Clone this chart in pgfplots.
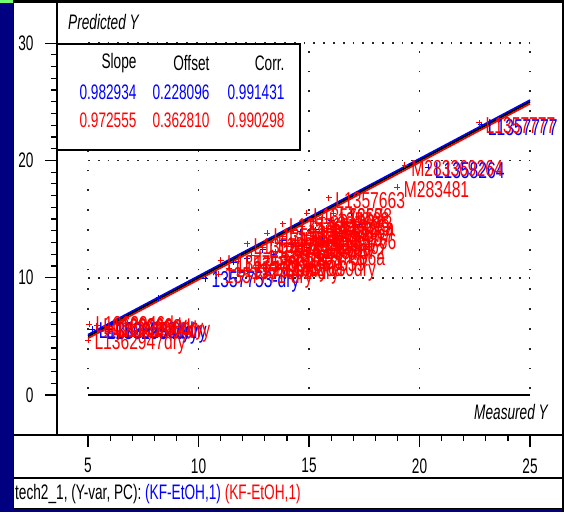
\documentclass[border=0pt]{standalone}
\usepackage{pgfplots}
\usepackage{pgfplotstable}
\pgfplotsset{compat=1.18}
\usepackage{fontspec}
\setmainfont{Liberation Sans}[FakeStretch=0.65]
\newfontfamily\lf{Liberation Sans}[FakeStretch=0.68]
\definecolor{navy}{RGB}{0,0,128}
\definecolor{pblue}{RGB}{0,0,255}
\definecolor{pred}{RGB}{255,0,0}
\newcommand\tf{\fontsize{21}{23}\selectfont}
\newcommand\samplefont{\lf\fontsize{23}{25}\selectfont}

% validation samples (red), with sample names
\pgfplotstableread{
x y label
5.00 4.65 L1362947dry
5.05 6.05 L1362946dry
5.40 5.90 L1362966dry
5.80 5.80 L1362988dry
6.10 5.70 L1362964dry
10.9 10.3 1357771-dry
11.0 11.5 L1357588
11.4 10.8 L1357590dry
11.8 11.4 L1357592
12.1 10.6 1357602-dry
12.2 12.9 L1357611
12.4 11.9 L1357615
12.7 11.0 L1357620a
12.9 12.6 L1357627
13.1 13.8 L1357630
13.1 11.6 L1357633
13.3 13.0 L1357641
13.5 12.2 1357648-dry
13.6 10.9 L1357650dry
13.8 14.6 L1357651
13.8 13.5 L1357652
14.0 12.7 L1357655a
14.1 11.5 L1357659
14.3 14.0 L1357661
14.4 13.2 L1357664
14.6 12.0 L1357666a
14.7 14.4 L1357668
14.9 15.5 L1357669
14.9 13.6 L1357670
15.0 12.5 L1357672
15.2 14.8 L1357675
15.3 13.9 L1357677
15.5 12.9 L135767
15.6 15.1 L135768
15.8 14.2 L135764
15.9 16.8 L1357663
15.9 13.3 L135766
16.1 15.5 L13578
16.2 14.5 L1356a
19.00 17.73 M283481
19.34 19.60 M283369264
22.70 23.20 L1357777
}\redpts

% calibration samples (blue), with sample names
\pgfplotstableread{
x y label
5.20 5.60 L1362955dry
5.55 5.50 L1362934dry
5.95 5.55 L1362981dry
10.30 9.90 1357753-dry
20.40 19.40 L1358264
22.80 23.05 L1357777
}\bluepts

% calibration samples (blue), names hidden under the red cluster
\pgfplotstableread{
x y
12.2 11.6
12.9 12.4
13.4 12.0
13.8 13.2
14.2 12.8
14.6 13.9
14.9 12.6
15.3 14.1
15.6 13.3
16.0 14.9
16.4 13.8
16.9 15.5
17.3 14.5
11.6 11.3
8.2 8.3
}\bluecl

\begin{document}
\begin{tikzpicture}[x=1pt,y=1pt]
\useasboundingbox (0,0) rectangle (564,512);
\fill[navy] (0,0) rectangle (564,512);
\fill[green!55] (0,509) rectangle (13,512);
\fill[white] (13,3) rectangle (562,509);
\begin{axis}[
  at={(57pt,77pt)}, anchor=south west,
  scale only axis, width=504pt, height=432pt,
  xmin=3.597, xmax=26.40, ymin=-3.41, ymax=33.42,
  axis x line*=bottom, axis y line*=left,
  axis line style={-, line width=1.3pt, black},
  xtick={5,10,15,20,25}, minor x tick num=4,
  ytick={0,10,20,30}, minor y tick num=9,
  tick align=outside,
  major tick length=12pt, minor tick length=6pt,
  tick style={black, line width=1.2pt},
  /pgf/number format/assume math mode=true,
  ticklabel style={font=\tf},
  xticklabel style={yshift=-8pt},
  yticklabel style={xshift=-8pt},
  clip=false,
]
% grid
\draw[black!85, line width=1.8pt, dash pattern=on 1.8pt off 8pt] (axis cs:5,10) -- (axis cs:25,10);
\draw[black!85, line width=1.8pt, dash pattern=on 1.8pt off 8pt] (axis cs:5,20) -- (axis cs:25,20);
\draw[black!85, line width=1.8pt, dash pattern=on 1.8pt off 8pt] (axis cs:5,30) -- (axis cs:25,30);
\draw[black!85, line width=1.8pt, dash pattern=on 1.8pt off 18pt] (axis cs:5,0.5) -- (axis cs:5,30);
\draw[black!85, line width=1.8pt, dash pattern=on 1.8pt off 18pt] (axis cs:10,0.5) -- (axis cs:10,30);
\draw[black!85, line width=1.8pt, dash pattern=on 1.8pt off 18pt] (axis cs:15,0.5) -- (axis cs:15,30);
\draw[black!85, line width=1.8pt, dash pattern=on 1.8pt off 18pt] (axis cs:20,0.5) -- (axis cs:20,30);
\draw[black!85, line width=1.8pt, dash pattern=on 1.8pt off 18pt] (axis cs:25,0.5) -- (axis cs:25,30);
% zero line
\addplot[black, line width=1.8pt] coordinates {(5,0)(25,0)};
% calibration samples
\addplot[only marks, mark=+, mark size=3pt, pblue, line width=1pt,
  nodes near coords, point meta=explicit symbolic,
  every node near coord/.append style={anchor=west, font=\samplefont, text=pblue, inner sep=0pt, xshift=6pt, yshift=-3pt}]
  table[x=x, y=y, meta=label] {\bluepts};
\addplot[only marks, mark=+, mark size=3pt, pblue, line width=1pt] table[x=x, y=y] {\bluecl};
% validation samples
\addplot[only marks, mark=+, mark size=3pt, pred, line width=1pt,
  nodes near coords, point meta=explicit symbolic,
  every node near coord/.append style={anchor=west, font=\samplefont, text=pred, inner sep=0pt, xshift=6pt, yshift=-3pt}]
  table[x=x, y=y, meta=label] {\redpts};
% target / regression band
\addplot[pred, line width=1.6pt] coordinates {(5,4.83)(25,24.83)};
\addplot[pblue, line width=1.6pt] coordinates {(5,5.15)(25,25.15)};
\addplot[black, line width=1.8pt] coordinates {(5,5)(25,25)};
\end{axis}
% frame lines
\draw[black, line width=1.3pt] (13,77) -- (562,77);
\draw[black, line width=1.5pt] (13,34) -- (562,34);
\draw[black, line width=1.3pt] (57,77) -- (57,509);
\draw[black, line width=3pt] (13,510.5) -- (564,510.5);
\draw[black, line width=1pt] (13.5,3) -- (13.5,511);
\draw[black, line width=2pt] (563,0) -- (563,512);
\draw[black, line width=1.5pt] (13,3.5) -- (564,3.5);
% statistics table
\filldraw[fill=white, draw=black, line width=1.6pt] (57,468) rectangle (300,362);
\node[anchor=east, font=\tf] at (140,449) {Slope};
\node[anchor=east, font=\tf] at (213,449) {Offset};
\node[anchor=east, font=\tf] at (288,449) {Corr.};
\node[anchor=east, font=\tf, text=pblue] at (140,420) {0.982934};
\node[anchor=east, font=\tf, text=pblue] at (213,420) {0.228096};
\node[anchor=east, font=\tf, text=pblue] at (288,420) {0.991431};
\node[anchor=east, font=\tf, text=pred] at (140,392) {0.972555};
\node[anchor=east, font=\tf, text=pred] at (213,392) {0.362810};
\node[anchor=east, font=\tf, text=pred] at (288,392) {0.990298};
% axis titles
\node[anchor=west, font=\tf\itshape, inner sep=0pt] at (68,490) {Predicted Y};
\node[anchor=east, font=\tf\itshape, inner sep=0pt] at (548,100) {Measured Y};
% status line
\node[anchor=west, font=\tf, inner sep=0pt] at (15,18) {tech2\_1, (Y-var, PC): \textcolor{pblue}{(KF-EtOH,1)} \textcolor{pred}{(KF-EtOH,1)}};
\end{tikzpicture}
\end{document}
